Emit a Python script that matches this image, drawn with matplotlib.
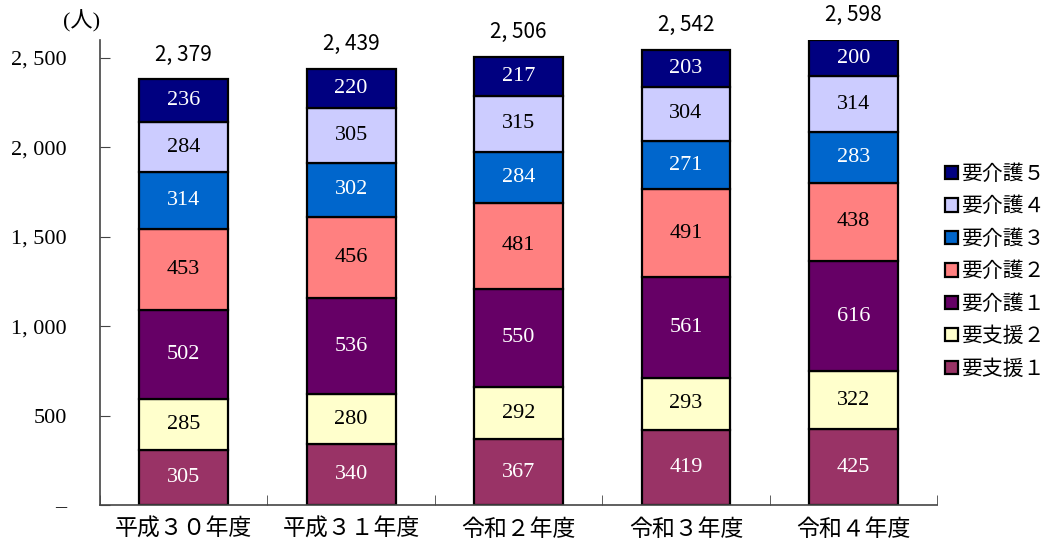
import matplotlib
matplotlib.use('Agg')
import matplotlib.pyplot as plt
import numpy as np

############################################################
# Datos
############################################################

years = ['平成３０年度', '平成３１年度', '令和２年度', '令和３年度', '令和４年度']

levels = ['要支援１', '要支援２', '要介護１', '要介護２', '要介護３', '要介護４', '要介護５']

shien1 = [305, 340, 367, 419, 425]
shien2 = [285, 280, 292, 293, 322]
kaigo1 = [502, 536, 550, 561, 616]
kaigo2 = [453, 456, 481, 491, 438]
kaigo3 = [314, 302, 284, 271, 283]
kaigo4 = [284, 305, 315, 304, 314]
kaigo5 = [236, 220, 217, 203, 200]

totals = [2379, 2439, 2506, 2542, 2598]

yticks = [0, 500, 1000, 1500, 2000, 2500]

############################################################
# Estilo
############################################################

colors = ['#993366', '#FFFFCC', '#660066', '#FF8080', '#0066CC', '#CCCCFF', '#000080']
text_colors = ['white', 'black', 'white', 'black', 'white', 'black', 'white']

serif = ['Liberation Serif', 'Noto Sans CJK JP']
plt.rcParams['font.family'] = serif


def fmt(v):
    if v == 0:
        return '–'
    return f'{v:,}'.replace(',', ', ')


############################################################
# Grafica
############################################################

fig = plt.figure(figsize=(10.53, 5.46), dpi=100)
ax = fig.add_axes([0.095, 0.075, 0.795, 0.852])

series = [shien1, shien2, kaigo1, kaigo2, kaigo3, kaigo4, kaigo5]
x = np.arange(len(years))
bottom = np.zeros(len(years))

handles = []
for vals, name, c, tc in zip(series, levels, colors, text_colors):
    bars = ax.bar(x, vals, 0.53, bottom=bottom, color=c,
                  edgecolor='black', linewidth=1.6, label=name)
    handles.append(bars)
    for xi, b, v in zip(x, bottom, vals):
        ax.text(xi, b + v / 2, str(v), ha='center', va='center',
                fontsize=16, color=tc)
    bottom = bottom + np.array(vals)

for xi, t, b in zip(x, totals, bottom):
    ax.text(xi, b + 105, fmt(t), ha='center', va='baseline',
            fontsize=15, family=['Noto Sans CJK JP'], color='black')

ax.set_xlim(-0.5, len(years) - 0.5)
ax.set_ylim(0, 2600)

ax.set_yticks(yticks)
ax.set_yticklabels([fmt(v) for v in yticks], fontsize=16)
ax.tick_params(axis='y', direction='in', length=7, pad=24, color='#444444')

ax.set_xticks(x)
ax.set_xticklabels(years, fontsize=16.5)
ax.tick_params(axis='x', length=0, pad=10)
ax.set_xticks(np.arange(len(years) + 1) - 0.5, minor=True)
ax.tick_params(axis='x', which='minor', direction='in', length=7, color='#444444')

for s in ['top', 'right']:
    ax.spines[s].set_visible(False)
for s in ['left', 'bottom']:
    ax.spines[s].set_color('#444444')
    ax.spines[s].set_linewidth(1.2)

ax.text(-0.022, 1.015, '(人)', transform=ax.transAxes, ha='center',
        va='bottom', fontsize=16)

leg = ax.legend(handles[::-1], levels[::-1], loc='center left',
                bbox_to_anchor=(0.997, 0.5), frameon=False, fontsize=15,
                handlelength=0.6, handleheight=0.6, handletextpad=0.15,
                labelspacing=0.62, borderaxespad=0.1)

fig.savefig('out.png', dpi=100)
